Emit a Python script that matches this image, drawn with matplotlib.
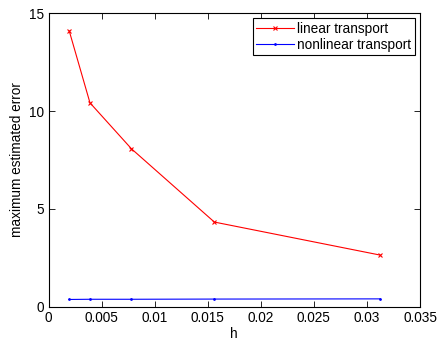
import matplotlib
matplotlib.use("Agg")
import matplotlib.pyplot as plt

plt.rcParams['font.family'] = ['Liberation Sans', 'DejaVu Sans']

h = [1/512, 1/256, 1/128, 1/64, 1/32]
linear_err = [14.1, 10.42, 8.07, 4.32, 2.63]
nonlinear_err = [0.36, 0.37, 0.37, 0.38, 0.39]
xticks = [0, 0.005, 0.01, 0.015, 0.02, 0.025, 0.03, 0.035]
xticklabels = ['0', '0.005', '0.01', '0.015', '0.02', '0.025', '0.03', '0.035']
yticks = [0, 5, 10, 15]

fs = 9.8
fig = plt.figure(figsize=(4.37, 3.41), dpi=100)
ax = fig.add_axes([48.5/437, 1 - 306.5/341, (420 - 48.5)/437, (306.5 - 13.3)/341])

ax.plot(h, linear_err, color='red', marker='x', markersize=3.5, linewidth=0.8,
        markeredgewidth=0.8, label='linear transport')
ax.plot(h, nonlinear_err, color='blue', marker='.', markersize=2, linewidth=0.8,
        label='nonlinear transport')

ax.set_xlim(0, 0.035)
ax.set_ylim(0, 15)
ax.set_xticks(xticks)
ax.set_xticklabels(xticklabels)
ax.set_yticks(yticks)
ax.tick_params(direction='in', top=True, right=True, labelsize=fs, length=4, width=0.6, pad=3)
for s in ax.spines.values():
    s.set_linewidth(0.8)

ax.set_xlabel('h', fontsize=fs, labelpad=2)
ax.set_ylabel('maximum estimated error', fontsize=fs, labelpad=4)

leg = ax.legend(loc='upper right', fontsize=fs, fancybox=False, framealpha=1,
                edgecolor='black', borderpad=0.25, labelspacing=0.15,
                handlelength=2.8, handletextpad=0.25, borderaxespad=0.38)
leg.get_frame().set_linewidth(0.8)

fig.savefig('out.png', dpi=100)
